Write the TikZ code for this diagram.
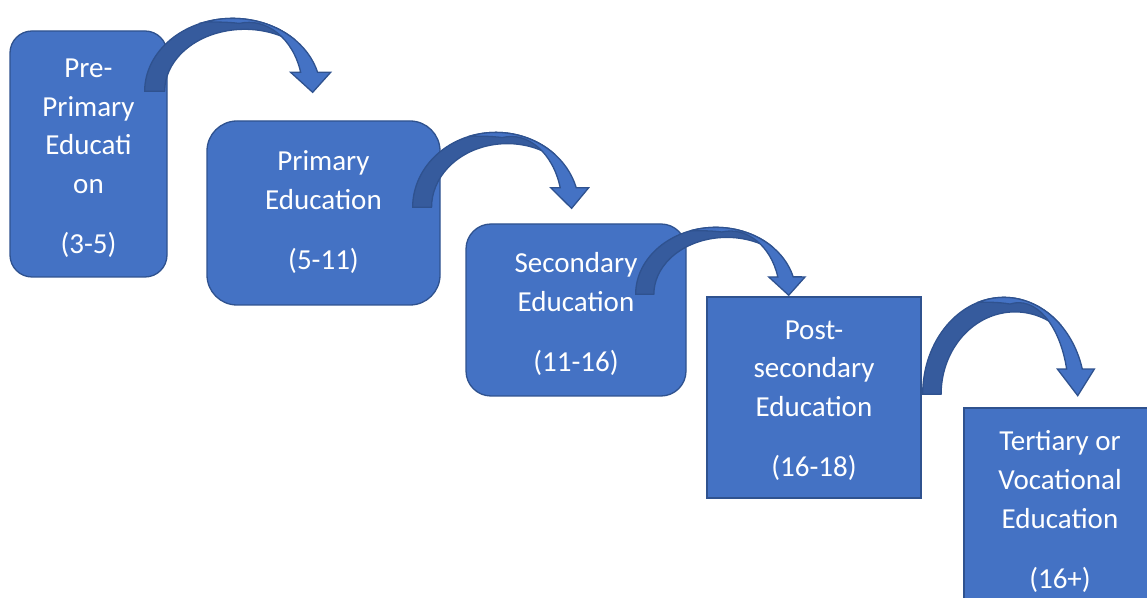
\documentclass[tikz,border=0pt]{standalone}
\usepackage{fontspec}
\setmainfont{Carlito}
\usetikzlibrary{calc}
\definecolor{boxfill}{HTML}{4472C4}
\definecolor{boxline}{HTML}{2F528F}
\definecolor{backfill}{HTML}{365B9D}

\tikzset{
  stage/.style={draw=boxline, fill=boxfill, line width=1.3pt, inner sep=0pt},
  stagetext/.style={text=white, align=center, inner sep=0pt,
    font=\fontsize{29}{38.7}\selectfont},
  arrowback/.style={fill=backfill, draw=boxline, line width=1.3pt, line join=round},
  arrowfront/.style={fill=boxfill, draw=boxline, line width=1.3pt, line join=miter},
}

% curved block arrow: base at #1, scaled by #2 (horizontal) and #3 (vertical)
\newcommand{\bentarrow}[3]{%
  \begin{scope}[shift={#1}, xscale=#2, yscale=#3]
    \path[arrowback] (0,0)
      arc[start angle=180, end angle=45.2, x radius=88, y radius=73]
      -- (149.9,48.5)
      arc[start angle=51.4, end angle=180, x radius=80, y radius=62]
      -- cycle;
    \path[arrowfront] (59.93,69.19)
      arc[start angle=108.6, end angle=15.1, x radius=88, y radius=73]
      -- (186,19) -- (168,-1) -- (146,19) -- (156,19)
      arc[start angle=16, end angle=100, x radius=54.1, y radius=69]
      .. controls (84,69.3) and (70,69.5) .. cycle;
  \end{scope}}

\begin{document}
\begin{tikzpicture}[x=1pt, y=1pt]
  \useasboundingbox (0,0) rectangle (1147,597);
  \clip (0,0) rectangle (1147,597);

  % stages
  \node[stage, rounded corners=22pt, minimum width=157pt, minimum height=246pt]
    (b1) at (88.5,443) {};
  \node[stage, rounded corners=30pt, minimum width=233pt, minimum height=184pt]
    (b2) at (323.5,384) {};
  \node[stage, rounded corners=25pt, minimum width=220pt, minimum height=172pt]
    (b3) at (576,287) {};
  \node[stage, minimum width=214pt, minimum height=201pt]
    (b4) at (814,199.5) {};
  \node[stage, minimum width=192pt, minimum height=201pt]
    (b5) at (1060,88.5) {};

  % stage labels
  \node[stagetext] (t1) at ($(b1)+(0,-4)$) {Pre-\\Primary\\Educati\\on\\[21pt](3-5)};
  \node[stagetext] (t2) at ($(b2)+(0,1)$) {Primary\\Education\\[21pt](5-11)};
  \node[stagetext] (t3) at ($(b3)+(0,-4)$) {Secondary\\Education\\[21pt](11-16)};
  \node[stagetext] (t4) at ($(b4)+(0,-3)$) {Post-\\secondary\\Education\\[21pt](16-18)};
  \node[stagetext] (t5) at ($(b5)+(0,-3)$) {Tertiary or\\Vocational\\Education\\[21pt](16+)};

  % arrows between stages
  \bentarrow{($(b1.north east)+(-23,-61)$)}{1}{1}
  \bentarrow{($(b2.north east)+(-28,-87)$)}{0.946}{1.027}
  \bentarrow{($(b3.north east)+(-51,-71)$)}{0.911}{0.918}
  \bentarrow{($(b4.north east)+(1,-98)$)}{0.923}{1.329}
\end{tikzpicture}
\end{document}
